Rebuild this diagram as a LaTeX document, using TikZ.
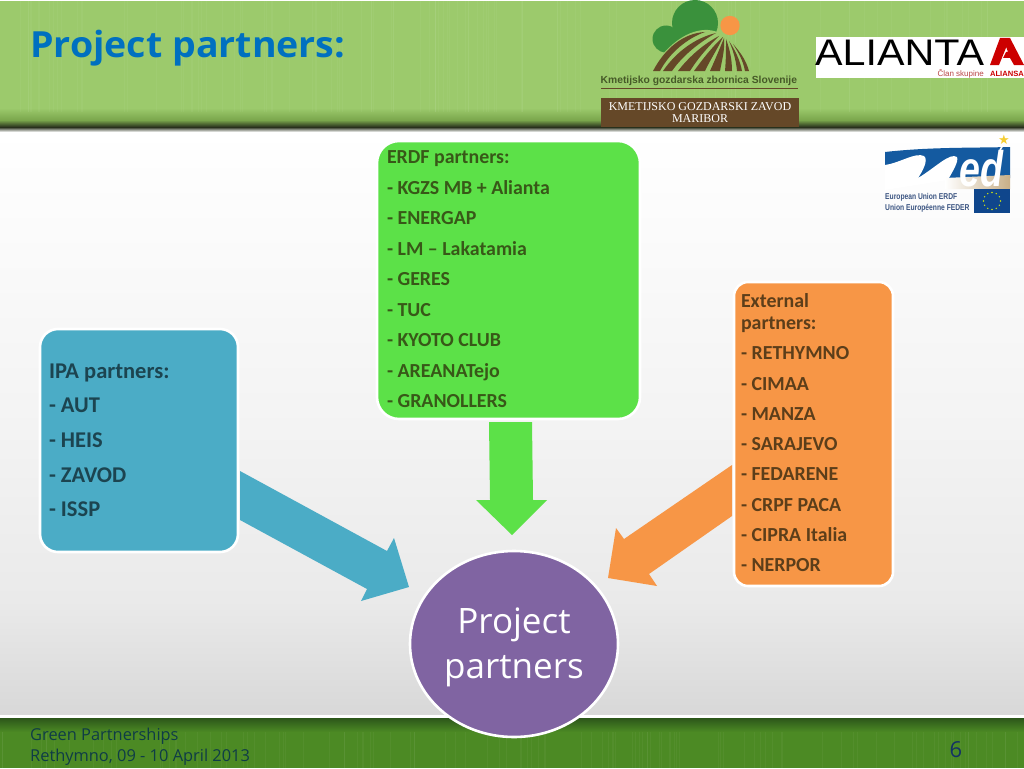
\documentclass[tikz,border=0pt]{standalone}
\usepackage{fontspec}
\usetikzlibrary{shapes.geometric}
\setmainfont{Carlito}
\newfontfamily\tahomaish{Open Sans}
\newfontfamily\arialish{Liberation Sans}
\newfontfamily\timesish{Liberation Serif}
\newfontfamily\symbolish{DejaVu Sans}
\definecolor{ipablue}{RGB}{75,172,198}
\definecolor{erdfgreen}{RGB}{92,225,72}
\definecolor{extorange}{RGB}{247,150,70}
\definecolor{hubpurple}{RGB}{128,100,162}
\definecolor{titleblue}{RGB}{0,112,192}
\definecolor{erdfink}{RGB}{56,88,24}
\definecolor{ipaink}{RGB}{28,68,80}
\definecolor{extink}{RGB}{92,62,26}
\definecolor{footink}{RGB}{15,60,70}
\definecolor{logobrown}{RGB}{101,72,40}
\definecolor{logogreen}{RGB}{58,145,60}
\definecolor{medblue}{RGB}{20,90,160}
\definecolor{medtext}{RGB}{60,85,130}
\definecolor{bandgreen}{RGB}{156,202,108}
\definecolor{bandmid}{RGB}{122,166,76}
\definecolor{banddark}{RGB}{40,48,28}
\definecolor{footdark}{RGB}{44,86,26}
\definecolor{footgreen}{RGB}{76,138,36}
\definecolor{medtan}{RGB}{200,175,135}
\definecolor{medflag}{RGB}{15,70,140}
\definecolor{medstarc}{RGB}{245,205,50}
\definecolor{kgzsink}{RGB}{70,90,40}
\definecolor{pagenoink}{RGB}{20,50,100}
\definecolor{pagemid}{RGB}{243,243,243}
\definecolor{pagelow}{RGB}{234,234,234}
\definecolor{pageend}{RGB}{216,216,216}
\tikzset{
  partnerbox/.style={draw=white,line width=2.6pt,outer sep=0pt,inner sep=0pt},
  boxtext/.style={inner sep=0pt,outer sep=0pt,anchor=north west,align=left,font=\fontsize{19.9}{30.3}\bfseries\selectfont},
  grain/.style={line width=.7pt,white,opacity=.04},
  fieldstripe/.style={fill=logobrown,draw=none}
}
\begin{document}
\begin{tikzpicture}[x=1pt,y=-1pt]
\useasboundingbox (0,0) rectangle (1024,768);
% page background
\fill[white] (0,0) rectangle (1024,768);
\shade[top color=white,bottom color=pagemid] (0,130) rectangle (1024,430);
\shade[top color=pagemid,bottom color=pagelow] (0,430) rectangle (1024,600);
\shade[top color=pagelow,bottom color=pageend] (0,600) rectangle (1024,714);
% header band
\fill[bandgreen] (0,1) rectangle (1024,108);
\shade[top color=bandgreen,bottom color=bandmid] (0,108) rectangle (1024,120);
\shade[top color=bandmid,bottom color=banddark] (0,120) rectangle (1024,127);
\shade[top color=banddark,bottom color=white] (0,127) rectangle (1024,132);
% footer band
\shade[top color=footdark,bottom color=footgreen] (0,718) rectangle (1024,732);
\fill[footgreen] (0,732) rectangle (1024,768);
% band grain
\pgfmathsetseed{41}
\foreach \n in {1,...,110}{
  \pgfmathsetmacro{\gx}{rnd*1024}
  \draw[grain] (\gx,1) -- (\gx,112);
  \pgfmathsetmacro{\hx}{rnd*1024}
  \draw[grain] (\hx,732) -- (\hx,768);
}
% title
\node[inner sep=0pt,anchor=base west,text=titleblue,font=\fontsize{36}{40}\tahomaish\bfseries\selectfont] (title) at (30,57) {\scalebox{1.043}[1]{Project partners:}};
% farm logo
\fill[logogreen] (666,39) circle (13.5);
\fill[logogreen] (695,23) circle (23);
\fill[bandgreen] (650,72) .. controls (668,42) and (690,29) .. (708,30) .. controls (730,32) and (745,50) .. (752,72) -- cycle;
\fill[extorange] (730,25.5) circle (9.7);
\fill[fieldstripe] (653,71) .. controls (665,48) and (684,33) .. (705,32) .. controls (688,38) and (670,52) .. (660,71) -- cycle;
\fill[fieldstripe] (663,71) .. controls (676,52) and (695,38) .. (716,33) .. controls (700,42) and (683,55) .. (672,71) -- cycle;
\fill[fieldstripe] (678,71) .. controls (688,58) and (702,45) .. (719,36) .. controls (708,47) and (698,58) .. (690,71) -- cycle;
\fill[fieldstripe] (694,71) .. controls (702,60) and (712,47) .. (723,37) .. controls (717,50) and (710,60) .. (705,71) -- cycle;
\fill[fieldstripe] (710,71) .. controls (715,60) and (720,48) .. (724,38) .. controls (725,50) and (722,60) .. (720,71) -- cycle;
\fill[fieldstripe] (725,71) .. controls (726,60) and (726,50) .. (726,39) .. controls (730,50) and (732,60) .. (732,71) -- cycle;
\fill[fieldstripe] (737,71) .. controls (736,60) and (733,50) .. (729,41) .. controls (735,50) and (740,60) .. (742,71) -- cycle;
\fill[fieldstripe] (745,71) .. controls (743,60) and (738,52) .. (733,44) .. controls (740,52) and (746,60) .. (749,71) -- cycle;
\node[inner sep=0pt,anchor=base west,text=kgzsink,font=\fontsize{10.3}{11}\arialish\bfseries\selectfont] (kgzs) at (600.5,83) {Kmetijsko gozdarska zbornica Slovenije};
\draw[logobrown,line width=.7pt] (601,88) -- (798,88);
\node[fill=logobrown,text=white,inner sep=0pt,minimum width=198pt,minimum height=29pt,align=center,font=\fontsize{12}{12.4}\timesish\selectfont] (zavod) at (700,112.5) {KMETIJSKO GOZDARSKI ZAVOD\\MARIBOR};
% Alianta logo
\fill[white] (816,37) rectangle (1024,78);
\node[inner sep=0pt,anchor=base west,text=black,font=\fontsize{37}{40}\arialish\selectfont] (alianta) at (815,66) {\scalebox{1.115}[1]{ALIANTA}};
\fill[red!80!black] (1000,38) -- (1010,38) -- (999,65) -- (990,65) -- cycle;
\fill[red!80!black] (1010,38) -- (1024,65) -- (1014,65) -- (1010,58) -- (1003,58) -- (1006,52) -- (1008,52) -- (1005,44) -- cycle;
\node[inner sep=0pt,anchor=base east,text=red!45!gray,font=\fontsize{8}{9}\arialish\selectfont] (clan) at (984,76.5) {Član skupine};
\node[inner sep=0pt,anchor=base east,text=red!80!black,font=\fontsize{7.6}{9}\arialish\bfseries\selectfont] (aliansa) at (1024,76.5) {ALIANSA};
% Med logo
\fill[medblue] (885,152) .. controls (930,147) and (970,148) .. (1010,147) -- (1010,178) -- (885,178) -- cycle;
\fill[white] (885,165) .. controls (900,163) and (915,152) .. (924,156) .. controls (929,160) and (922,172) .. (918,178) .. controls (935,168) and (950,152) .. (957,157) .. controls (959,162) and (952,172) .. (948,180) -- (885,190) -- cycle;
\shade[left color=white,right color=medtan] (945,178) -- (1010,175) -- (1010,189) -- (945,189) -- cycle;
\node[inner sep=0pt,anchor=base west,text=white,font=\fontsize{50}{50}\arialish\bfseries\itshape\selectfont] (med) at (959,186) {\scalebox{.75}[1]{ed}};
\draw[white,line width=1.6pt] (1000,150) -- (1003,145);
\node[inner sep=0pt,text=medstarc,font=\fontsize{13}{13}\symbolish\selectfont] (medstar) at (1004,140) {★};
\node[inner sep=0pt,anchor=base west,text=medtext,font=\fontsize{8.5}{9}\arialish\bfseries\selectfont] (eu1) at (885,199) {\scalebox{.79}[1]{European Union ERDF}};
\node[inner sep=0pt,anchor=base west,text=medtext,font=\fontsize{8.5}{9}\arialish\bfseries\selectfont] (eu2) at (885,210.5) {\scalebox{.79}[1]{Union Européenne FEDER}};
\fill[medflag] (974,189) rectangle (1010,213);
\foreach \a in {0,30,...,330}{
  \fill[yellow!80!green] (992,201) ++(\a:8.5) circle (.8);
}
% partner boxes
\node[partnerbox,fill=erdfgreen,rounded corners=22pt,minimum width=263pt,minimum height=278pt] (erdf) at (508.5,280) {};
\node[partnerbox,fill=ipablue,rounded corners=18pt,minimum width=198pt,minimum height=223pt] (ipa) at (139,440.5) {};
\node[partnerbox,fill=extorange,rounded corners=14pt,minimum width=159pt,minimum height=304pt] (ext) at (813.5,434) {};
\node[partnerbox,fill=hubpurple,ellipse,minimum width=208pt,minimum height=186pt] (hub) at (514,644) {};
% block arrows
\fill[ipablue] ([shift={(2,30.5)}]ipa.east) -- (387,551) -- (394,538) -- ([shift={(-105,-57)}]hub.center) -- (361,601) -- (367,589) -- ([shift={(2,79.5)}]ipa.east) -- cycle;
\fill[erdfgreen] ([shift={(-19.5,3)}]erdf.south) -- (490,500) -- (476,500) -- ([shift={(-2,-109)}]hub.center) -- (547,500) -- (533,500) -- ([shift={(23.5,3)}]erdf.south) -- cycle;
\fill[extorange] ([shift={(-2,31)}]ext.west) -- (624,539) -- (616,528) -- ([shift={(94,-66)}]hub.center) -- (657,586) -- (649,574) -- ([shift={(-2,82)}]ext.west) -- cycle;
% box texts
\node[boxtext,text=erdfink,font=\fontsize{19.9}{30.5}\bfseries\selectfont] (erdftext) at (387,151) {ERDF partners:\\- KGZS MB + Alianta\\- ENERGAP\\- LM – Lakatamia\\- GERES\\- TUC\\- KYOTO CLUB\\- AREANATejo\\- GRANOLLERS};
\node[boxtext,text=ipaink,font=\fontsize{22.5}{34.7}\bfseries\selectfont] (ipatext) at (49,363.5) {IPA partners:\\- AUT\\- HEIS\\- ZAVOD\\- ISSP};
\node[boxtext,text=extink] (exttext) at (741,293.5) {External\\[-8.3pt]partners:\\- RETHYMNO\\- CIMAA\\- MANZA\\- SARAJEVO\\- FEDARENE\\- CRPF PACA\\- CIPRA Italia\\- NERPOR};
\node[text=white,inner sep=0pt,align=center,font=\fontsize{35}{45}\tahomaish\selectfont] (hubtext) at (514,647) {Project\\partners};
% footer
\node[inner sep=0pt,anchor=base west,text=footink,font=\fontsize{16.4}{19}\tahomaish\selectfont] (foot1) at (30,740) {Green Partnerships};
\node[inner sep=0pt,anchor=base west,text=footink,font=\fontsize{16.4}{19}\tahomaish\selectfont] (foot2) at (30,761) {Rethymno, 09 - 10 April 2013};
\node[inner sep=0pt,anchor=base,text=pagenoink,font=\fontsize{22}{24}\tahomaish\selectfont] (pageno) at (956,757) {6};
\end{tikzpicture}
\end{document}
